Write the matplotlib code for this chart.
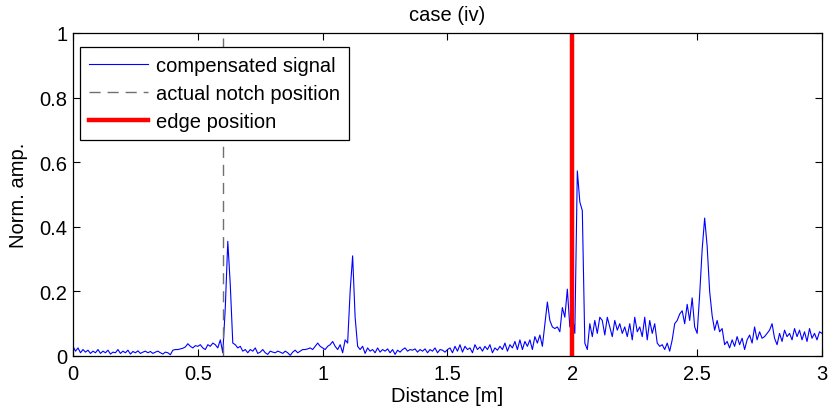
import numpy as np
import matplotlib
matplotlib.use('Agg')
import matplotlib.pyplot as plt

plt.rcParams['font.family'] = ['Liberation Sans', 'DejaVu Sans']

# compensated signal, sampled every 0.01 m from 0 to 3 m
amp = [
    0.03, 0.015, 0.025, 0.01, 0.02, 0.012, 0.018, 0.008, 0.015, 0.01,
    0.02, 0.008, 0.015, 0.01, 0.018, 0.006, 0.012, 0.01, 0.02, 0.008,
    0.015, 0.01, 0.018, 0.006, 0.014, 0.01, 0.016, 0.008, 0.012, 0.015,
    0.01, 0.014, 0.008, 0.012, 0.015, 0.01, 0.006, 0.012, 0.01, 0.004,
    0.018, 0.02, 0.02, 0.022, 0.024, 0.028, 0.038, 0.03, 0.025, 0.032,
    0.03, 0.035, 0.025, 0.02, 0.035, 0.03, 0.04, 0.035, 0.025, 0.05,
    0.01, 0.15, 0.355, 0.22, 0.04, 0.035, 0.025, 0.03, 0.015, 0.02,
    0.01, 0.02, 0.015, 0.025, 0.008, 0.012, 0.02, 0.01, 0.005, 0.015,
    0.012, 0.01, 0.015, 0.012, 0.008, 0.015, 0.01, 0.002, 0.012, 0.018,
    0.01, 0.015, 0.02, 0.02, 0.022, 0.025, 0.02, 0.03, 0.04, 0.03,
    0.025, 0.02, 0.03, 0.035, 0.045, 0.03, 0.02, 0.035, 0.01, 0.05,
    0.04, 0.2, 0.31, 0.12, 0.03, 0.02, 0.03, 0.008, 0.025, 0.015,
    0.02, 0.01, 0.025, 0.012, 0.02, 0.015, 0.022, 0.01, 0.02, 0.005,
    0.018, 0.012, 0.02, 0.025, 0.015, 0.02, 0.018, 0.022, 0.012, 0.02,
    0.015, 0.022, 0.01, 0.02, 0.015, 0.025, 0.01, 0.02, 0.018, 0.012,
    0.02, 0.025, 0.01, 0.03, 0.015, 0.035, 0.012, 0.03, 0.02, 0.025,
    0.01, 0.035, 0.02, 0.028, 0.015, 0.03, 0.02, 0.035, 0.01, 0.025,
    0.018, 0.03, 0.02, 0.04, 0.015, 0.035, 0.025, 0.045, 0.02, 0.05,
    0.02, 0.045, 0.03, 0.05, 0.02, 0.06, 0.04, 0.065, 0.03, 0.1,
    0.167, 0.11, 0.09, 0.085, 0.09, 0.075, 0.15, 0.12, 0.207, 0.09,
    0.13, 0.07, 0.573, 0.477, 0.45, 0.04, 0.02, 0.1, 0.06, 0.11,
    0.07, 0.12, 0.11, 0.065, 0.12, 0.09, 0.06, 0.11, 0.08, 0.1,
    0.07, 0.09, 0.06, 0.1, 0.05, 0.12, 0.075, 0.09, 0.06, 0.12,
    0.05, 0.11, 0.07, 0.1, 0.04, 0.03, 0.035, 0.02, 0.04, 0.015,
    0.05, 0.1, 0.11, 0.13, 0.14, 0.1, 0.16, 0.11, 0.18, 0.09,
    0.07, 0.19, 0.33, 0.427, 0.34, 0.2, 0.125, 0.08, 0.11, 0.075,
    0.085, 0.035, 0.045, 0.025, 0.05, 0.03, 0.06, 0.035, 0.055, 0.02,
    0.05, 0.065, 0.04, 0.09, 0.05, 0.075, 0.055, 0.06, 0.07, 0.08,
    0.1, 0.055, 0.035, 0.07, 0.045, 0.08, 0.06, 0.07, 0.05, 0.085,
    0.06, 0.08, 0.05, 0.075, 0.045, 0.085, 0.055, 0.07, 0.05, 0.075,
    0.07,
]
step = 0.01
distance = np.arange(len(amp)) * step

notch_pos = 0.6
edge_pos = 2.0

xticks = [0, 0.5, 1, 1.5, 2, 2.5, 3]
xticklabels = ['0', '0.5', '1', '1.5', '2', '2.5', '3']
yticks = [0, 0.2, 0.4, 0.6, 0.8, 1]
yticklabels = ['0', '0.2', '0.4', '0.6', '0.8', '1']

fs = 14.5

fig = plt.figure(figsize=(8.29, 4.14), dpi=100)
ax = fig.add_axes([73/829, 1 - 357/414, (822-73)/829, (357-34)/414])

ax.plot(distance, amp, color='blue', lw=0.8, label='compensated signal')
ax.plot([notch_pos, notch_pos], [0, 1], color='#707070', lw=1.0,
        linestyle=(0, (8, 5)), label='actual notch position')
ax.plot([edge_pos, edge_pos], [0, 1], color='red', lw=3.2, label='edge position')

ax.set_xlim(0, 3)
ax.set_ylim(0, 1)
ax.set_xticks(xticks)
ax.set_xticklabels(xticklabels)
ax.set_yticks(yticks)
ax.set_yticklabels(yticklabels)
ax.tick_params(direction='in', top=True, right=True, length=5, width=0.8,
               labelsize=fs)
ax.tick_params(axis='x', pad=6)
ax.tick_params(axis='y', pad=4)
for s in ax.spines.values():
    s.set_linewidth(0.9)

ax.set_xlabel('Distance [m]', fontsize=fs, labelpad=2)
ax.set_ylabel('Norm. amp.', fontsize=fs, labelpad=8)
ax.set_title('case (iv)', fontsize=fs, pad=9)

leg = ax.legend(loc='upper left', bbox_to_anchor=(7/749, 1 - 14/323),
                borderaxespad=0, fontsize=fs, fancybox=False, framealpha=1,
                edgecolor='black', handlelength=2.95, handletextpad=0.35,
                labelspacing=0.45, borderpad=0.45)
leg.get_frame().set_linewidth(0.9)

fig.savefig('out.png', dpi=100)
